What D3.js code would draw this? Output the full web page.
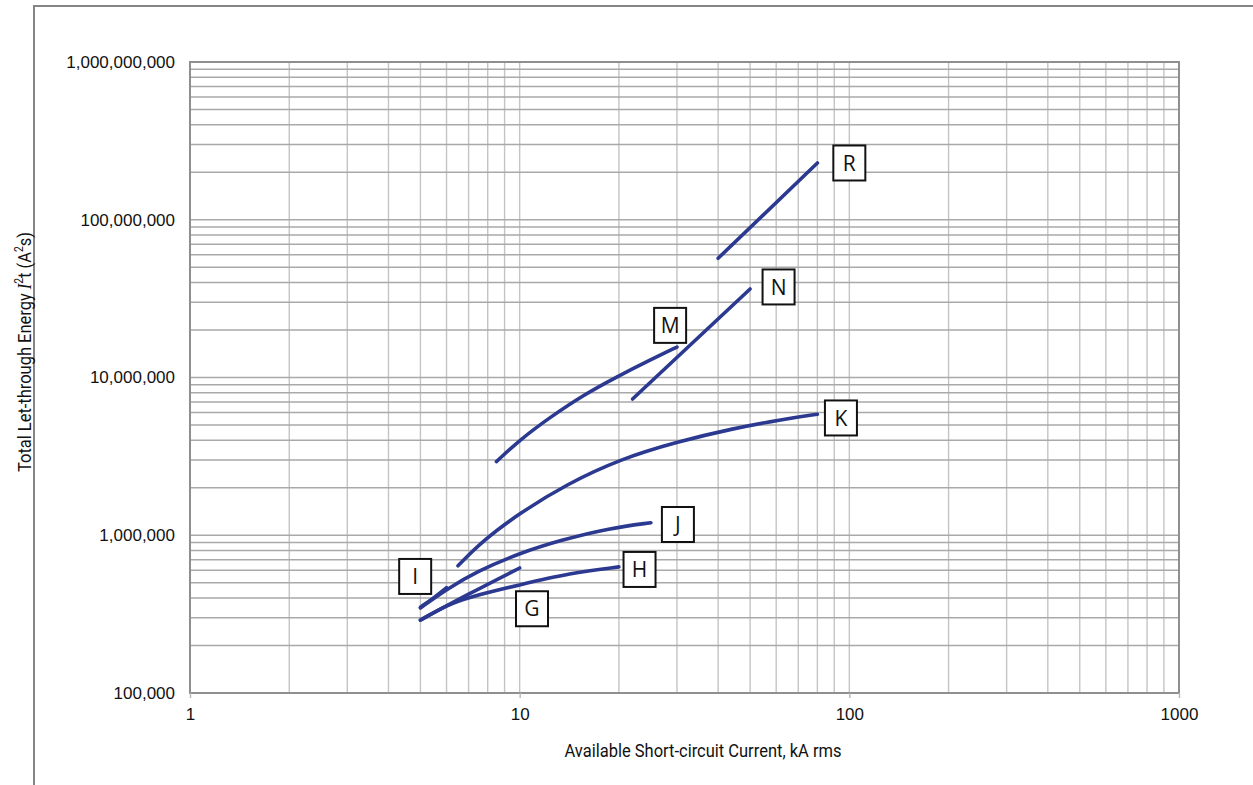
<!DOCTYPE html>
<html>
<head>
<meta charset="utf-8">
<script src="https://cdn.jsdelivr.net/npm/d3@7"></script>
<style>
  html, body { margin: 0; padding: 0; background: #fff; }
  svg { display: block; }
</style>
</head>
<body>
<svg id="chart" width="1253" height="785"></svg>
<script>
// ---- Data (kA rms, A²s) ----
const curveG = [[5, 2.9e5], [7, 4.25e5], [10, 6.2e5]];
const curveH = [[5, 2.9e5], [6, 3.6e5], [7, 4.05e5], [10, 4.85e5], [14.2, 5.75e5], [20, 6.3e5]];
const curveI = [[5, 3.5e5], [5.5, 4.02e5], [6, 4.65e5]];
const curveJ = [[5, 3.46e5], [6, 4.54e5], [7.4, 5.89e5], [10, 7.7e5], [13.3, 9.3e5], [18.8, 1.11e6], [25, 1.2e6]];
const curveK = [[6.5, 6.4e5], [7.76, 9.3e5], [10, 1.38e6], [13.9, 2.11e6], [20.2, 3.04e6], [29.9, 3.9e6], [44.5, 4.76e6], [63, 5.43e6], [80, 5.85e6]];
const curveM = [[8.5, 2.93e6], [10, 4.02e6], [12.36, 5.59e6], [15.6, 7.74e6], [19.7, 1.01e7], [24.85, 1.29e7], [30, 1.56e7]];
const curveN = [[22, 7.3e6], [50, 3.64e7]];
const curveR = [[40, 5.7e7], [80, 2.29e8]];

const seriesNames = ["G", "H", "I", "J", "K", "M", "N", "R"];
const seriesData = [curveG, curveH, curveI, curveJ, curveK, curveM, curveN, curveR];
// label anchor (data coordinates) for each series tag
const labelX = [10.9, 23.1, 4.82, 30.2, 94.3, 28.6, 61, 100];
const labelY = [3.42e5, 6.07e5, 5.48e5, 1.17e6, 5.54e6, 2.14e7, 3.75e7, 2.29e8];

const xTickValues = [1, 10, 100, 1000];
const xTickLabels = ["1", "10", "100", "1000"];
const yTickValues = [1e5, 1e6, 1e7, 1e8, 1e9];
const yTickLabels = ["100,000", "1,000,000", "10,000,000", "100,000,000", "1,000,000,000"];

const xTitle = "Available Short-circuit Current, kA rms";

// ---- Layout ----
const svg = d3.select("#chart");
const pLeft = 190, pRight = 1179, pTop = 62, pBottom = 693;

const x = d3.scaleLog().domain([1, 1000]).range([pLeft, pRight]);
const y = d3.scaleLog().domain([1e5, 1e9]).range([pBottom, pTop]);

// outer frame (left and top lines)
svg.append("path")
  .attr("d", `M34,785 L34,6 L1253,6`)
  .attr("fill", "none").attr("stroke", "#858585").attr("stroke-width", 2);

// grid
const minorX = [];
for (let d = 1; d < 1000; d *= 10) for (let k = 1; k <= 9; k++) minorX.push(d * k);
minorX.push(1000);
const minorY = [];
for (let d = 1e5; d < 1e9; d *= 10) for (let k = 1; k <= 9; k++) minorY.push(d * k);
minorY.push(1e9);

const grid = svg.append("g");
grid.selectAll("line.vx").data(minorX).enter().append("line")
  .attr("x1", d => x(d)).attr("x2", d => x(d))
  .attr("y1", pTop).attr("y2", pBottom)
  .attr("stroke", "#c4c4c4").attr("stroke-width", 1.4);
grid.selectAll("line.hy").data(minorY).enter().append("line")
  .attr("x1", pLeft).attr("x2", pRight)
  .attr("y1", d => y(d)).attr("y2", d => y(d))
  .attr("stroke", "#a9a9a9").attr("stroke-width", 1.4);

// plot border
svg.append("rect")
  .attr("x", pLeft).attr("y", pTop).attr("width", pRight - pLeft).attr("height", pBottom - pTop)
  .attr("fill", "none").attr("stroke", "#8f8f8f").attr("stroke-width", 2);

// x axis
const xAxis = d3.axisBottom(x).tickValues(xTickValues)
  .tickFormat((d, i) => xTickLabels[i]).tickSize(5).tickPadding(10);
const gx = svg.append("g").attr("transform", `translate(0,${pBottom})`).call(xAxis);
gx.select(".domain").remove();
gx.selectAll(".tick line").attr("stroke", "#b5b5b5").attr("stroke-width", 1.4);
gx.selectAll(".tick text").attr("font-family", "Liberation Sans, Arial, sans-serif")
  .attr("font-size", 17).attr("fill", "#111");

// y axis
const yAxis = d3.axisLeft(y).tickValues(yTickValues)
  .tickFormat((d, i) => yTickLabels[i]).tickSize(0).tickPadding(15);
const gy = svg.append("g").attr("transform", `translate(${pLeft},0)`).call(yAxis);
gy.select(".domain").remove();
gy.selectAll(".tick text").attr("font-family", "Liberation Sans, Arial, sans-serif")
  .attr("font-size", 17).attr("fill", "#111");

// axis titles
svg.append("text")
  .attr("x", 703).attr("y", 757)
  .attr("text-anchor", "middle")
  .attr("font-family", "Roboto, sans-serif").attr("font-size", 19)
  .attr("textLength", 277).attr("lengthAdjust", "spacingAndGlyphs")
  .attr("fill", "#111")
  .text(xTitle);

const yt = svg.append("text")
  .attr("transform", "translate(31,352) rotate(-90)")
  .attr("text-anchor", "middle")
  .attr("font-family", "Roboto, sans-serif").attr("font-size", 19)
  .attr("textLength", 240).attr("lengthAdjust", "spacingAndGlyphs")
  .attr("fill", "#111");
yt.append("tspan").text("Total Let-through Energy ");
yt.append("tspan").attr("font-style", "italic").attr("font-family", "Liberation Serif, serif").text("I");
yt.append("tspan").attr("font-size", 12).attr("dy", -8).text("2");
yt.append("tspan").attr("dy", 8).text("t (A");
yt.append("tspan").attr("font-size", 12).attr("dy", -8).text("2");
yt.append("tspan").attr("dy", 8).text("s)");

// curves
const line = d3.line()
  .x(d => x(d[0])).y(d => y(d[1]))
  .curve(d3.curveBasis);

svg.append("g").selectAll("path").data(seriesData).enter().append("path")
  .attr("d", d => line(d))
  .attr("fill", "none")
  .attr("stroke", "#2b3990")
  .attr("stroke-width", 3.6)
  .attr("stroke-linecap", "round")
  .attr("stroke-linejoin", "round");

// labels
const bw = 32, bh = 35;
const lg = svg.append("g").selectAll("g").data(seriesNames).enter().append("g")
  .attr("transform", (d, i) => `translate(${x(labelX[i])},${y(labelY[i])})`);
lg.append("rect")
  .attr("x", -bw / 2).attr("y", -bh / 2).attr("width", bw).attr("height", bh)
  .attr("fill", "#fff").attr("stroke", "#111").attr("stroke-width", 2);
lg.append("text")
  .attr("text-anchor", "middle").attr("dy", "0.36em")
  .attr("font-family", "Open Sans, sans-serif").attr("font-size", 21)
  .attr("fill", "#111")
  .text(d => d);
</script>
</body>
</html>
